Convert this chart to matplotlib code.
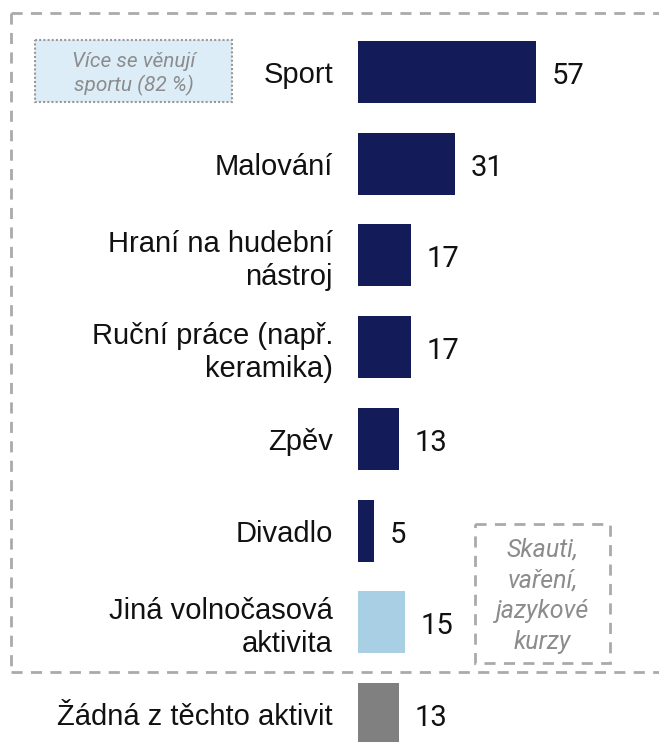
import matplotlib.pyplot as plt
from matplotlib.patches import Rectangle
import numpy as np

labels = ["Sport", "Malování", "Hraní na hudební\nnástroj", "Ruční práce (např.\nkeramika)",
          "Zpěv", "Divadlo", "Jiná volnočasová\naktivita", "Žádná z těchto aktivit"]
values = [57, 31, 17, 17, 13, 5, 15, 13]
colors = ["#131c59"] * 6 + ["#a8cfe3", "#808080"]

W, H = 659, 742
fig = plt.figure(figsize=(W / 100, H / 100), dpi=100)

# overlay axis in pixel coordinates for boxes
ov = fig.add_axes([0, 0, 1, 1])
ov.set_xlim(0, W)
ov.set_ylim(H, 0)
ov.axis("off")

# bars axis: starts at x=358px, rows centred 72px .. 714px
px_per_unit = 3.12
ax = fig.add_axes([358 / W, 0, (W - 358) / W, 1])
ax.patch.set_visible(False)
step = (714 - 72) / 7
pos = np.arange(len(values))
ax.barh(pos, values, height=62 / step, color=colors)
ax.set_xlim(0, (W - 358) / px_per_unit)
ax.set_ylim(7 + (H - 714) / step, -72 / step)
for p, v in zip(pos, values):
    ax.text(v + 16 / px_per_unit, p + 4 / step, str(v), va="center", ha="left",
            fontsize=21, family="Roboto", color="#111111")
ax.set_yticks(pos)
ax.set_yticklabels(labels, fontsize=21, family="Liberation Sans", color="#111111")
ax.tick_params(axis="y", length=0, pad=18)
ax.set_xticks([])
for s in ax.spines.values():
    s.set_visible(False)

dash = dict(color="#aaaaaa", lw=2, ls=(0, (4, 3)))
ov.plot([11, W], [13, 13], **dash)
ov.plot([11, 11], [13, 672], **dash)
ov.plot([11, W], [672, 672], **dash)

ov.add_patch(Rectangle((35, 40), 197, 62, facecolor="#dcedf8", edgecolor="#999999",
                       lw=1.5, ls=(0, (1, 1))))
ov.text(134, 74, "Více se věnují\nsportu (82 %)", ha="center", va="center",
        fontsize=15, style="italic", family="Roboto", color="#8c8c8c", linespacing=1.2)

ov.add_patch(Rectangle((475, 524), 135, 139, facecolor="none", edgecolor="#aaaaaa",
                       lw=2, ls=(0, (4, 3))))
ov.text(542.5, 596, "Skauti,\nvaření,\njazykové\nkurzy", ha="center", va="center",
        fontsize=18, style="italic", family="Roboto", color="#8c8c8c", linespacing=1.35)

fig.savefig("out.png", dpi=100)
